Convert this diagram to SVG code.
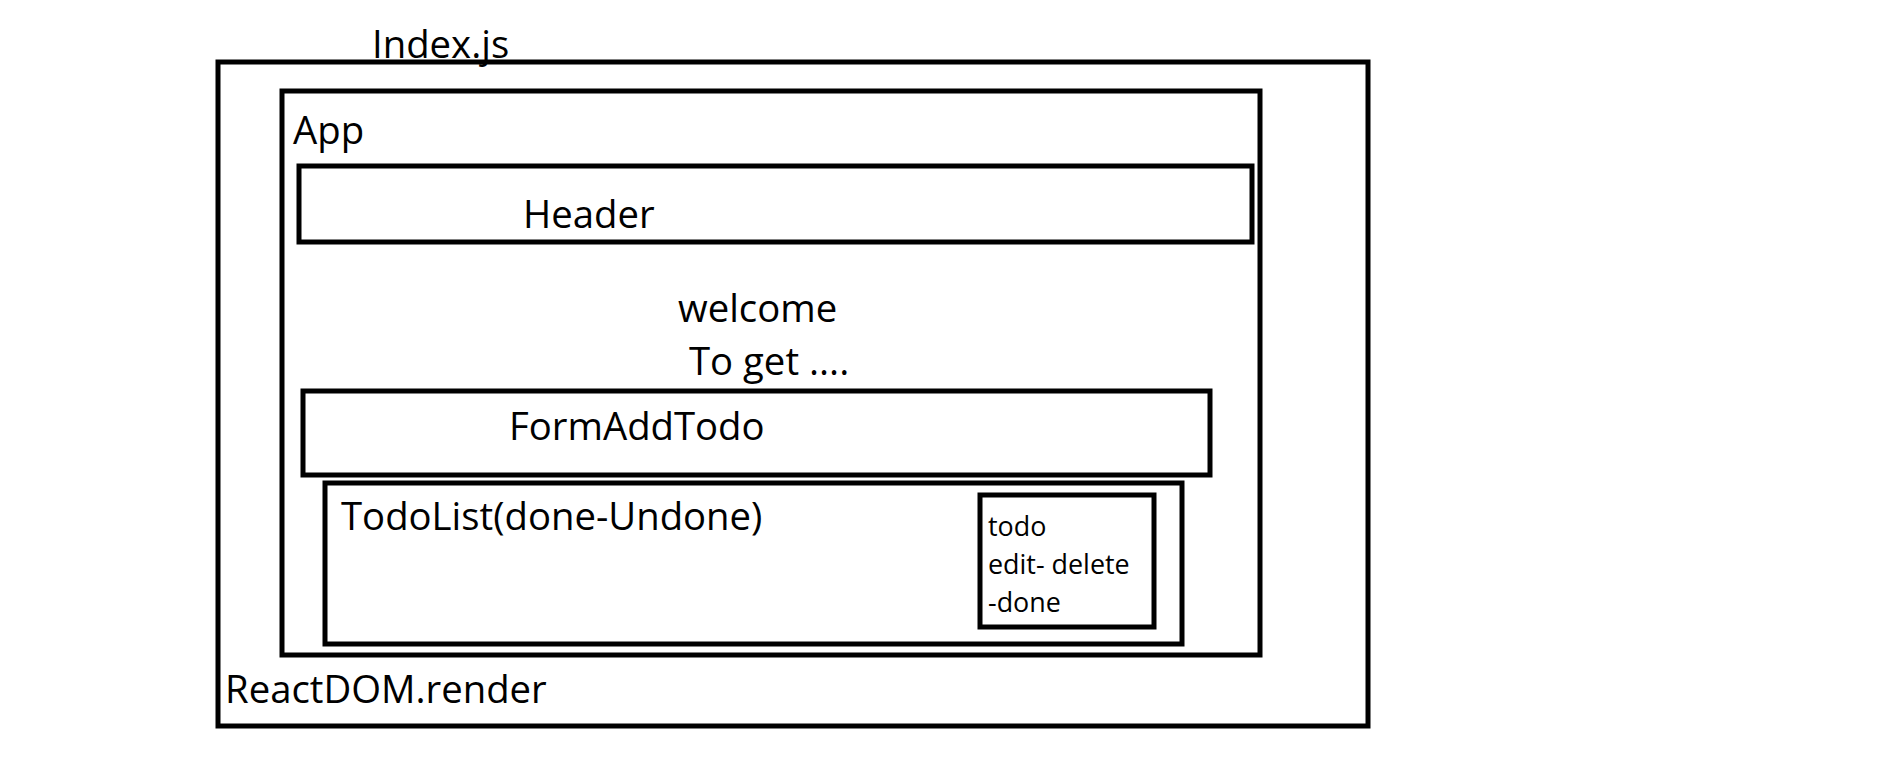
<svg xmlns="http://www.w3.org/2000/svg" width="1881" height="771" viewBox="0 0 1881 771">
<style>
.box{fill:none;stroke:#000;stroke-width:5}
.t{font-family:"Open Sans","Noto Sans",sans-serif;font-size:38.3px;fill:#000}
.s{font-family:"Open Sans","Noto Sans",sans-serif;font-size:26.9px;fill:#000}
</style>
<rect width="1881" height="771" fill="#fff"/>
<g id="index">
<rect class="box" x="218" y="62" width="1150" height="664"/>
<text class="t" x="372" y="58">Index.js</text>
<text class="t" x="225" y="703">ReactDOM.render</text>
</g>
<g id="app">
<rect class="box" x="282" y="91" width="978" height="564"/>
<text class="t" x="293" y="144">App</text>
<text class="t" x="678" y="322">welcome</text>
<text class="t" x="689" y="375">To get ....</text>
</g>
<g id="header">
<rect class="box" x="299" y="166" width="953" height="76"/>
<text class="t" x="523" y="228">Header</text>
</g>
<g id="formaddtodo">
<rect class="box" x="303" y="391" width="907" height="84"/>
<text class="t" x="509" y="440">FormAddTodo</text>
</g>
<g id="todolist">
<rect class="box" x="325" y="483" width="857" height="161"/>
<text class="t" x="341" y="530">TodoList(done-Undone)</text>
</g>
<g id="todo">
<rect class="box" x="980" y="495" width="174" height="132"/>
<text class="s" x="988" y="536">todo</text>
<text class="s" x="988" y="574">edit- delete</text>
<text class="s" x="988" y="612">-done</text>
</g>
<g id="connectors"></g>
</svg>
